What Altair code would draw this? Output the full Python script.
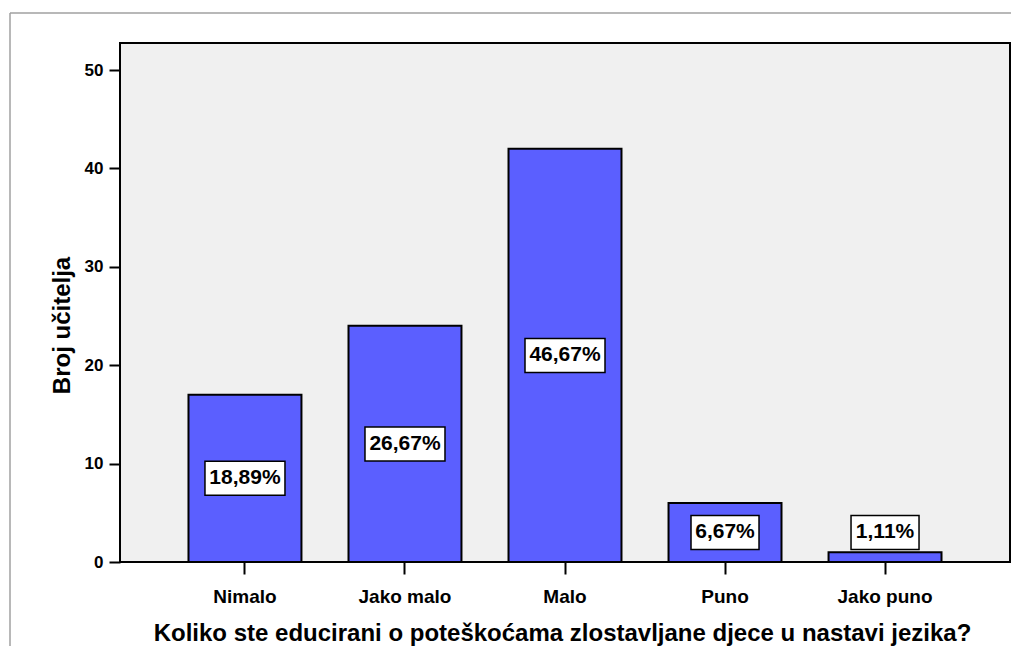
import altair as alt
import pandas as pd

categories = ["Nimalo", "Jako malo", "Malo", "Puno", "Jako puno"]
counts = [17, 24, 42, 6, 1]
y_ticks = [0, 10, 20, 30, 40, 50]
x_title = "Koliko ste educirani o poteškoćama zlostavljane djece u nastavi jezika?"
y_title = "Broj učitelja"

total = sum(counts)
percent_labels = [f"{c / total * 100:.2f}".replace(".", ",") + "%" for c in counts]


def box_path(label):
    h = 6 * len(label) + 4
    return f"M{-h},-17L{h},-17L{h},17L{-h},17Z"


df = pd.DataFrame({"kat": categories, "broj": counts, "pct": percent_labels})
df["box"] = [box_path(s) for s in percent_labels]
frame_df = pd.DataFrame({"k": [0]})

FONT = "Liberation Sans"

x_enc = alt.X(
    "kat:N",
    sort=categories,
    scale=alt.Scale(paddingInner=0.294, paddingOuter=0.428),
    axis=alt.Axis(
        title=x_title,
        labelAngle=0,
        labelFont=FONT,
        labelFontSize=19,
        labelFontWeight="bold",
        labelColor="black",
        labelPadding=13,
        tickSize=12,
        tickWidth=2,
        tickColor="black",
        domain=False,
        titleFont=FONT,
        titleFontSize=24,
        titleFontWeight="bold",
        titleColor="black",
        titleX=442,
        titleY=71,
        titleBaseline="middle",
    ),
)

y_axis = alt.Axis(
    title=y_title,
    values=y_ticks,
    grid=False,
    domain=False,
    labelFont=FONT,
    labelFontSize=17,
    labelFontWeight="bold",
    labelColor="black",
    labelPadding=6,
    tickSize=11,
    tickWidth=2,
    tickColor="black",
    titleFont=FONT,
    titleFontSize=24,
    titleFontWeight="bold",
    titleColor="black",
    titleX=-58,
    titleY=282,
    titleAlign="center",
    titleBaseline="middle",
)
y_scale = alt.Scale(domain=[0, 52.75], nice=False)

base = alt.Chart(df)

bars = base.mark_bar(color="#5B5FFF", stroke="black", strokeWidth=2).encode(
    x=x_enc,
    y=alt.Y("broj:Q", scale=y_scale, axis=y_axis, title=y_title),
)

label_base = base.transform_calculate(ly="max(datum.broj / 2, 3)")

boxes = label_base.mark_point(
    filled=True, fill="white", stroke="black", strokeWidth=1.5, opacity=1, size=4
).encode(
    x=alt.X("kat:N", sort=categories),
    y=alt.Y("ly:Q", scale=y_scale, title=y_title),
    shape=alt.Shape("box:N", scale=None),
)

texts = label_base.mark_text(
    font=FONT, fontSize=21, fontWeight="bold", color="black", baseline="middle"
).encode(
    x=alt.X("kat:N", sort=categories),
    y=alt.Y("ly:Q", scale=y_scale, title=y_title),
    text="pct:N",
)

frame_top = alt.Chart(frame_df).mark_rule(color="#A0A0A0", strokeWidth=1.5).encode(
    x=alt.value(-110), x2=alt.value(891), y=alt.value(-30)
)
frame_left = alt.Chart(frame_df).mark_rule(color="#A0A0A0", strokeWidth=1.5).encode(
    x=alt.value(-110), y=alt.value(-30), y2=alt.value(606)
)

chart = (
    alt.layer(bars, boxes, texts, frame_top, frame_left)
    .properties(
        width=890,
        height=519,
        autosize="none",
        padding={"left": 112, "top": 35, "right": 1, "bottom": 84},
        background="white",
    )
    .configure_view(fill="#F0F0F0", stroke="black", strokeWidth=2)
)

chart.save("out.html", embed_options={"renderer": "svg", "actions": False})
